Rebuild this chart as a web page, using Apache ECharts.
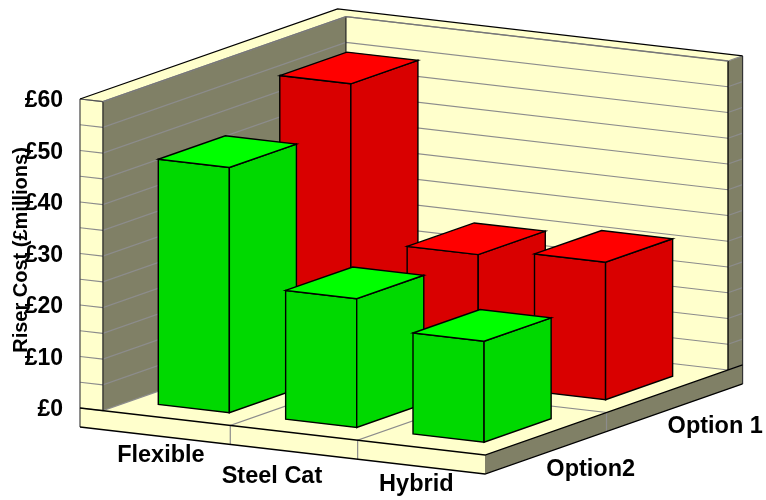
<!DOCTYPE html>
<html><head><meta charset="utf-8">
<style>html,body{margin:0;padding:0;background:#fff}#c{width:766px;height:500px}</style>
<script src="https://cdn.jsdelivr.net/npm/echarts@6/dist/echarts.min.js"></script>
</head><body><div id="c"></div>
<script>
const categories = ['Flexible', 'Steel Cat', 'Hybrid'];
const depthNames = ['Option2', 'Option 1'];
const option2Values = [47.6, 25, 19.6];
const option1Values = [55.6, 25.3, 26.7];
const gridTicks = [0, 5, 10, 15, 20, 25, 30, 35, 40, 45, 50, 55, 60];
const yTitle = 'Riser Cost (£millions)';

// layout of the oblique projection (pixels / axis units)
const DEPTH_DX = 121.5, DEPTH_DY = -42.5, SKEW = 47 / 405, ORIGIN_X = 80, LIFT = -2;
const WALL_X = -0.18, WALL_D = 2.12, FLOOR_V = -3.69, TOP_V = 60;
const BAR_GAP_X = 0.221, BAR_GAP_D = 0.224;
const CAT_LABEL_POS = [[-5.7, 37], [-22, 44], [-5, 37]];
const DEPTH_LABEL_POS = [[45, 36], [48, 35]];
const TITLE_POS = [21, 250];
const FONT = '"Liberation Sans", Arial, sans-serif';
const CREAM = '#FFFFCC', OLIVE = '#808066', GRID = '#8C8C8C', EDGE = '#000000';

function P(api, x, d, v) {
  const p = api.coord([x, v]);
  return [p[0] + d * DEPTH_DX, p[1] + LIFT + (p[0] - ORIGIN_X) * SKEW + d * DEPTH_DY];
}
const poly = (pts, fill, stroke, lw) => ({ type: 'polygon', shape: { points: pts }, style: { fill, stroke: stroke || null, lineWidth: lw || 1 } });
const line = (pts, stroke, lw) => ({ type: 'polyline', shape: { points: pts }, style: { fill: null, stroke, lineWidth: lw || 1 } });

function renderChrome(params, api) {
  if (params.dataIndex !== 0) return null;
  const X = categories.length, D = depthNames.length;
  const q = (x, d, v) => P(api, x, d, v);
  const e = [];
  // walls
  e.push(poly([q(0,0,TOP_V), q(0,D,TOP_V), q(0,D,0), q(0,0,0)], OLIVE));
  e.push(poly([q(0,D,TOP_V), q(X,D,TOP_V), q(X,D,0), q(0,D,0)], CREAM));
  e.push(poly([q(WALL_X,0,TOP_V), q(0,0,TOP_V), q(0,0,0), q(WALL_X,0,0)], CREAM));
  e.push(poly([q(X,D,TOP_V), q(X,WALL_D,TOP_V), q(X,WALL_D,0), q(X,D,0)], OLIVE));
  e.push(poly([q(WALL_X,0,TOP_V), q(WALL_X,WALL_D,TOP_V), q(X,WALL_D,TOP_V), q(X,D,TOP_V), q(0,D,TOP_V), q(0,0,TOP_V)], CREAM));
  // floor
  e.push(poly([q(WALL_X,0,0), q(X,0,0), q(X,D,0), q(0,D,0), q(0,0,0)], CREAM));
  e.push(poly([q(WALL_X,0,0), q(X,0,0), q(X,0,FLOOR_V), q(WALL_X,0,FLOOR_V)], CREAM));
  e.push(poly([q(X,0,0), q(X,WALL_D,0), q(X,WALL_D,FLOOR_V), q(X,0,FLOOR_V)], OLIVE));
  // value grid lines around the walls
  gridTicks.forEach(v => {
    e.push(line([q(WALL_X,0,v), q(0,0,v), q(0,D,v), q(X,D,v), q(X,WALL_D,v)], GRID, 1.2));
  });
  // floor grid lines
  for (let c = 1; c < X; c++) {
    e.push(line([q(c,D,0), q(c,0,0), q(c,0,FLOOR_V)], GRID, 1.2));
  }
  for (let s = 1; s < D; s++) {
    e.push(line([q(0,s,0), q(X,s,0), q(X,s,FLOOR_V)], GRID, 1.2));
  }
  // edges
  e.push(line([q(0,0,TOP_V), q(0,0,0)], '#222', 1.2));
  e.push(line([q(0,D,TOP_V), q(0,D,0)], '#222', 1.2));
  e.push(line([q(X,D,TOP_V), q(X,D,0)], '#000', 1.3));
  e.push(line([q(X,WALL_D,TOP_V), q(X,WALL_D,FLOOR_V)], '#333', 1.2));
  e.push(line([q(WALL_X,0,TOP_V), q(WALL_X,0,FLOOR_V)], '#444', 1.2));
  e.push(line([q(0,0,TOP_V), q(0,D,TOP_V), q(X,D,TOP_V)], '#777', 1.3));
  e.push(line([q(WALL_X,0,TOP_V), q(0,0,TOP_V)], '#555', 1.2));
  e.push(line([q(WALL_X,0,TOP_V), q(WALL_X,WALL_D,TOP_V), q(X,WALL_D,TOP_V)], EDGE, 1.3));
  e.push(line([q(WALL_X,0,0), q(X,0,0), q(X,WALL_D,0)], EDGE, 1.3));
  e.push(line([q(WALL_X,0,FLOOR_V), q(X,0,FLOOR_V), q(X,WALL_D,FLOOR_V)], EDGE, 1.3));
  // category and depth labels
  const lab = (t, pos, off) => ({ type: 'text', style: { text: t, x: pos[0] + off[0], y: pos[1] + off[1], fontFamily: FONT, fontWeight: 'bold', fontSize: 23.5, fill: '#000', align: 'center', verticalAlign: 'middle' } });
  categories.forEach((t, i) => e.push(lab(t, q(i + 0.5, 0, 0), CAT_LABEL_POS[i])));
  depthNames.forEach((t, i) => e.push(lab(t, q(X, i + 0.5, 0), DEPTH_LABEL_POS[i])));
  // axis title
  e.push({ type: 'text', x: TITLE_POS[0], y: TITLE_POS[1], rotation: Math.PI / 2,
    style: { text: yTitle, x: 0, y: 0, fontFamily: FONT, fontWeight: 'bold', fontSize: 20, fill: '#000', align: 'center', verticalAlign: 'middle' } });
  return { type: 'group', children: e };
}

function barRenderer(depth, side, top) {
  return function (params, api) {
    const c = api.value(0), v = api.value(1);
    const x0 = c + BAR_GAP_X, x1 = c + 1 - BAR_GAP_X;
    const d0 = depth + BAR_GAP_D, d1 = depth + 1 - BAR_GAP_D;
    return { type: 'group', children: [
      poly([P(api,x0,d0,v), P(api,x1,d0,v), P(api,x1,d0,0), P(api,x0,d0,0)], side, '#000', 1.4),
      poly([P(api,x1,d0,v), P(api,x1,d1,v), P(api,x1,d1,0), P(api,x1,d0,0)], side, '#000', 1.4),
      poly([P(api,x0,d0,v), P(api,x0,d1,v), P(api,x1,d1,v), P(api,x1,d0,v)], top, '#000', 1.4)
    ] };
  };
}
const rows = vals => vals.map((v, i) => [i, v]);

const chart = echarts.init(document.getElementById('c'), null, { renderer: 'canvas' });
chart.setOption({
  animation: false,
  backgroundColor: '#fff',
  grid: { left: 80, top: 101, width: 405, height: 309, containLabel: false, outerBoundsMode: 'none' },
  xAxis: { type: 'value', min: WALL_X, max: categories.length, show: false },
  yAxis: {
    type: 'value', min: 0, max: 60, interval: 10,
    axisLine: { show: false }, axisTick: { show: false }, splitLine: { show: false },
    axisLabel: { formatter: '£{value}', margin: 17, fontFamily: FONT, fontWeight: 'bold', fontSize: 23, color: '#000' }
  },
  series: [
    { type: 'custom', name: 'frame', silent: true, renderItem: renderChrome, data: [[0, 0]], encode: { x: 0, y: 1 }, z: 1 },
    { type: 'custom', name: depthNames[1], silent: true, renderItem: barRenderer(1, '#D90000', '#FF0000'), data: rows(option1Values), encode: { x: 0, y: 1 }, z: 2 },
    { type: 'custom', name: depthNames[0], silent: true, renderItem: barRenderer(0, '#00D900', '#00FF00'), data: rows(option2Values), encode: { x: 0, y: 1 }, z: 3 }
  ]
});
</script></body></html>
